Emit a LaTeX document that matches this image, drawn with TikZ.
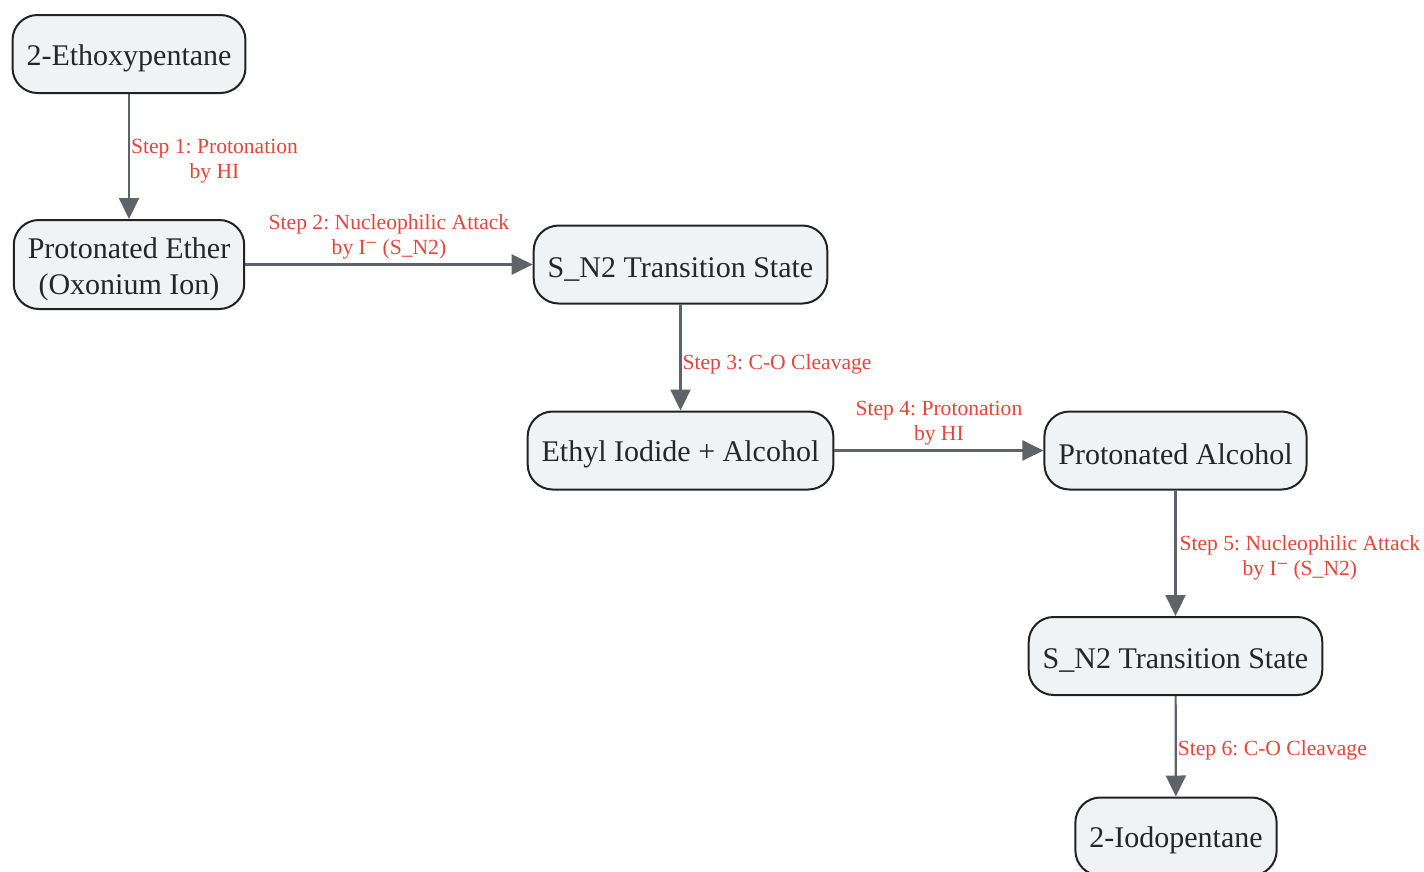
\documentclass[tikz,border=0pt]{standalone}
\usepackage{fontspec}
\setmainfont{Liberation Serif}
\frenchspacing
\usetikzlibrary{arrows.meta}
\definecolor{nodefill}{HTML}{F1F2F4}
\definecolor{nodeline}{HTML}{222222}
\definecolor{edgecol}{HTML}{5F6368}
\definecolor{lblcol}{HTML}{E5443A}
\newcommand{\supminus}{\raisebox{5pt}{\fontsize{20}{20}\selectfont −}}
\tikzset{
  stepnode/.style={draw=nodeline, fill=nodefill, line width=2pt, rounded corners=25pt,
    minimum height=78pt, inner xsep=14pt, inner ysep=5pt, align=center,
    font=\fontsize{30}{36}\selectfont, text=black!85,
    execute at begin node={\rule{0pt}{29pt}}},
  arr/.style={draw=edgecol, line width=2.2pt, -{Triangle[length=21pt,width=20pt]}},
  lbl/.style={text=lblcol, font=\fontsize{21.6}{25}\selectfont, align=center, inner sep=1pt},
}
\begin{document}
\begin{tikzpicture}[x=1pt,y=-1pt]
\useasboundingbox (0,0) rectangle (1424,871);
\node[stepnode] (a) at (129,54) {2-Ethoxypentane};
\node[stepnode, minimum height=89pt] (b) at (129,264.5) {\rule{0pt}{31pt}Protonated Ether\\(Oxonium Ion)};
\node[stepnode] (c) at (680.5,264.5) {S\_N2 Transition State};
\node[stepnode] (d) at (680.5,450.5) {Ethyl Iodide + Alcohol};
\node[stepnode] (e) at (1175.5,450.5) {Protonated Alcohol};
\node[stepnode] (f) at (1175.5,656) {S\_N2 Transition State};
\node[stepnode] (g) at (1176,836.5) {2-Iodopentane};
\draw[arr] (a) -- node[lbl, anchor=west, pos=0.52, yshift=-2pt] {Step 1: Protonation\\by HI} (b);
\draw[arr] (b) -- node[lbl, anchor=south, yshift=3pt] {Step 2: Nucleophilic Attack\\by I\supminus{} (S\_N2)} (c);
\draw[arr] (c) -- node[lbl, anchor=west, pos=0.55, yshift=-2pt] {Step 3: C-O Cleavage} (d);
\draw[arr] (d) -- node[lbl, anchor=south, yshift=3pt] {Step 4: Protonation\\by HI} (e);
\draw[arr] (e) -- node[lbl, anchor=west, pos=0.52, xshift=2pt, yshift=-2pt] {Step 5: Nucleophilic Attack\\by I\supminus{} (S\_N2)} (f);
\draw[arr] (f) -- node[lbl, anchor=west, pos=0.52, yshift=-2pt] {Step 6: C-O Cleavage} (g);
\end{tikzpicture}
\end{document}
